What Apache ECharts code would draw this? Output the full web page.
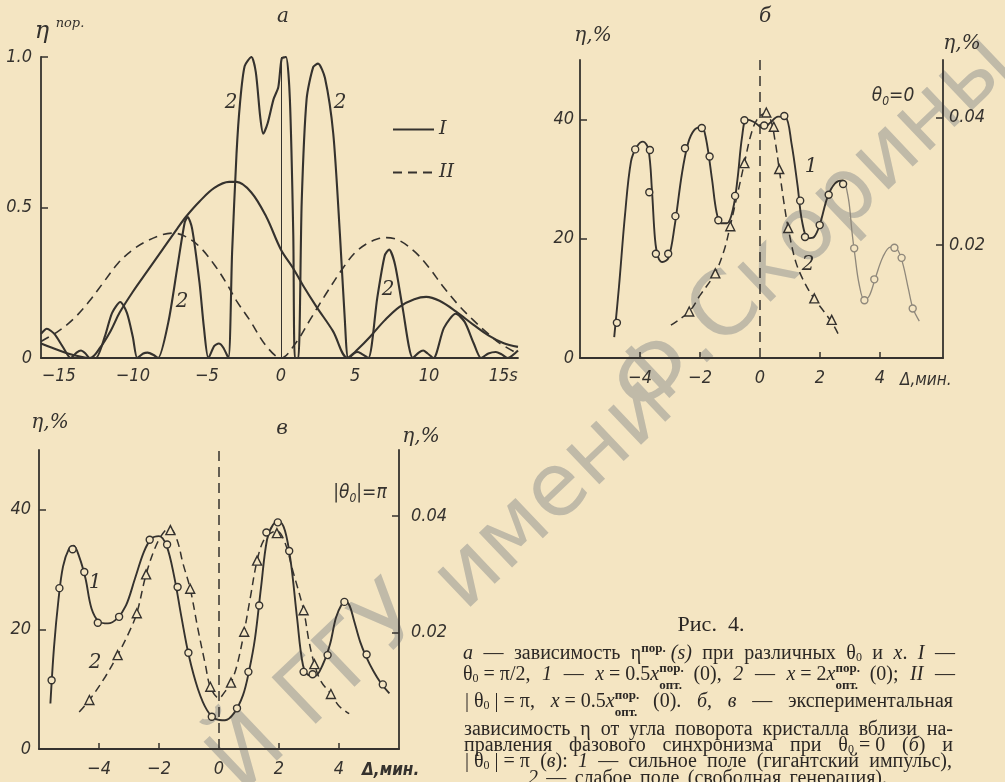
<!DOCTYPE html>
<html><head><meta charset="utf-8">
<script src="https://cdn.jsdelivr.net/npm/echarts@6/dist/echarts.min.js"></script>
<style>html,body{margin:0;padding:0;background:#f4e5c2;}#c{width:1005px;height:782px;}</style>
</head><body><div id="c"></div>
<script>
// ---------- Panel а: theory curves eta^пор.(s) ----------
const aTicksX = [-15, -10, -5, 0, 5, 10, 15];
const aTicksY = [0, 0.5, 1.0];
const aCurveI1 = [[-16.2,0.048],[-15.5,0.035],[-14.5,0.017],[-13.5,0.004],[-12.9,0],[-12.2,0.035],[-11.5,0.09],[-10.9,0.15],[-10,0.22],[-9,0.29],[-8,0.36],[-7,0.43],[-6.4,0.47],[-5.5,0.52],[-4.5,0.565],[-3.5,0.585],[-3,0.585],[-2,0.55],[-1,0.47],[0,0.36],[0.8,0.3],[1.5,0.24],[2.4,0.17],[3.5,0.09],[4.5,0],[5.2,0.03],[6,0.07],[7,0.125],[8,0.17],[9,0.195],[9.8,0.203],[10.7,0.19],[11.8,0.155],[13,0.11],[14,0.075],[15,0.05],[16,0.037]];
const aCurveI2 = [[-16.2,0.08],[-15.8,0.097],[-15.3,0.08],[-14.7,0.035],[-14.2,0],[-13.8,0.018],[-13.5,0.025],[-13.2,0.015],[-12.9,0],[-12.5,0],[-11.9,0.07],[-11.4,0.15],[-10.85,0.186],[-10.4,0.15],[-10,0.07],[-9.7,0],[-9.3,0.015],[-9,0.018],[-8.6,0.01],[-8.3,0],[-7.6,0.12],[-7,0.3],[-6.5,0.45],[-6.3,0.468],[-6,0.43],[-5.5,0.25],[-5.2,0.1],[-4.9,0],[-4.5,0.04],[-4.2,0.048],[-3.9,0.035],[-3.55,0],[-3.3,0.35],[-3,0.68],[-2.76,0.85],[-2.45,0.97],[-2,1.0],[-1.7,0.95],[-1.4,0.8],[-1.2,0.745],[-0.9,0.78],[-0.5,0.86],[-0.18,0.9],[0.05,0.995],[0.34,1.0],[0.6,0.86],[0.83,0.41],[0.94,0],[1.17,0],[1.4,0.52],[1.73,0.86],[2.18,0.967],[2.5,0.978],[2.97,0.93],[3.53,0.745],[3.98,0.41],[4.3,0.136],[4.54,0],[4.9,0.015],[5.2,0.02],[5.5,0.012],[5.9,0],[6.5,0.2],[7,0.34],[7.3,0.36],[7.7,0.31],[8.2,0.17],[8.9,0],[9.3,0.018],[9.6,0.025],[9.9,0.015],[10.3,0],[11,0.1],[11.8,0.147],[12.4,0.12],[13,0.05],[13.5,0],[14,0.015],[14.5,0.02],[14.9,0.012],[15.3,0],[16,0.025]];
const aCurveII = [[-16.2,0.055],[-15,0.09],[-14,0.13],[-13,0.185],[-12,0.25],[-11,0.315],[-10,0.36],[-9,0.39],[-8,0.41],[-7.3,0.415],[-6.5,0.405],[-5.5,0.37],[-4.5,0.31],[-3.7,0.25],[-3,0.19],[-2.1,0.125],[-1,0.04],[0,0],[1,0.05],[2,0.13],[3,0.21],[4.2,0.3],[5,0.35],[5.8,0.38],[6.5,0.395],[7.1,0.4],[8,0.39],[9.1,0.35],[10,0.3],[10.9,0.24],[12,0.175],[13,0.125],[14,0.08],[14.8,0.048],[16,0.014]];

// ---------- Panel б: theta0 = 0 ----------
const bTicksX = [-4, -2, 0, 2, 4];
const bTicksYLeft = [0, 20, 40];
const bTicksYRight = [0.02, 0.04];
const bCurve1 = [[-4.86,3.5],[-4.7,12],[-4.5,24],[-4.3,33],[-4.1,35.5],[-3.9,36.3],[-3.72,35],[-3.6,28],[-3.5,20],[-3.4,17],[-3.25,16.1],[-3.05,16.8],[-2.85,22],[-2.6,31],[-2.4,36],[-2.2,38.2],[-1.95,38.8],[-1.8,36.8],[-1.6,30],[-1.45,24.5],[-1.3,22.6],[-1.1,22.6],[-0.9,25],[-0.75,30],[-0.6,37],[-0.45,40],[-0.2,39.6],[0.1,38.6],[0.35,39.5],[0.6,40.5],[0.85,40.4],[1.05,36],[1.25,29],[1.4,23],[1.6,20.1],[1.8,20.3],[2.0,22.5],[2.25,27],[2.5,29.3],[2.75,29.8],[2.85,29.2]];
const bCurve1Faint = [[2.85,29.2],[2.97,26],[3.07,21],[3.17,17],[3.3,12.5],[3.48,9.7],[3.65,10.5],[3.85,13.5],[4.1,17],[4.35,18.6],[4.55,18.4],[4.75,16],[4.95,11.5],[5.1,8.3],[5.31,6.2]];
const bDots1 = [[-4.77,5.9],[-4.16,35.0],[-3.67,34.9],[-3.69,27.8],[-3.47,17.5],[-3.06,17.5],[-2.82,23.8],[-2.5,35.2],[-1.94,38.6],[-1.68,33.8],[-1.39,23.1],[-0.83,27.2],[-0.52,39.9],[0.14,39.0],[0.81,40.6],[1.34,26.4],[1.5,20.3],[1.99,22.3],[2.29,27.4],[2.77,29.2]];
const bDots1Faint = [[3.14,18.4],[3.48,9.7],[3.81,13.2],[4.48,18.5],[4.72,16.8],[5.09,8.3]];
const bCurve2 = [[-2.97,5.5],[-2.36,7.8],[-2.0,10.5],[-1.5,14.2],[-1.2,18],[-1.0,22],[-0.75,27.5],[-0.52,32.7],[-0.3,37.5],[-0.1,40],[0.15,41],[0.35,40],[0.5,36.5],[0.64,31.7],[0.8,26],[0.95,21.5],[1.2,16],[1.5,12.5],[1.8,10],[2.1,8],[2.39,6],[2.6,4.1]];
const bTri2 = [[-2.36,7.8],[-1.49,14.2],[-0.99,22.1],[-0.52,32.7],[0.21,41.2],[0.46,38.8],[0.64,31.7],[0.94,21.8],[1.81,10.0],[2.39,6.4]];

// ---------- Panel в: |theta0| = pi ----------
const vTicksX = [-4, -2, 0, 2, 4];
const vTicksYLeft = [0, 20, 40];
const vTicksYRight = [0.02, 0.04];
const vCurve1 = [[-5.62,7.6],[-5.5,17],[-5.35,25],[-5.2,30.5],[-5.0,33.5],[-4.85,34],[-4.65,32],[-4.45,28.5],[-4.25,23.5],[-4.0,21.3],[-3.7,21],[-3.4,21.8],[-3.1,24],[-2.8,28.5],[-2.5,33],[-2.25,35.2],[-2.0,35.6],[-1.75,34],[-1.5,29],[-1.25,22],[-1.0,15.5],[-0.7,10],[-0.4,6.5],[-0.1,5],[0.2,4.8],[0.5,6],[0.8,9],[1.0,13],[1.2,18.5],[1.4,27],[1.6,35],[1.8,37.5],[2.0,38],[2.2,36.5],[2.4,31],[2.6,22],[2.8,14],[3.0,12.3],[3.2,12.2],[3.45,14],[3.7,17.5],[3.9,22],[4.1,24.3],[4.2,24.7],[4.35,24],[4.5,21.5],[4.7,18],[4.9,15.5],[5.15,13],[5.4,11],[5.68,9.3]];
const vDots1 = [[-5.58,11.5],[-5.32,26.9],[-4.88,33.4],[-4.49,29.6],[-4.04,21.1],[-3.33,22.1],[-2.31,35.0],[-1.73,34.2],[-1.38,27.1],[-1.02,16.1],[-0.24,5.4],[0.6,6.8],[0.98,12.9],[1.34,24.0],[1.58,36.2],[1.96,37.9],[2.34,33.1],[2.82,12.9],[3.12,12.5],[3.62,15.7],[4.18,24.6],[4.92,15.8],[5.46,10.8]];
const vCurve2 = [[-4.66,6.2],[-4.32,8.2],[-3.8,12],[-3.38,15.7],[-3.0,19.5],[-2.74,22.7],[-2.43,29.2],[-2.1,34],[-1.8,36.5],[-1.62,36.8],[-1.4,35],[-1.2,31],[-0.96,26.8],[-0.7,20],[-0.45,14],[-0.29,10.4],[0,8.5],[0.2,9.6],[0.4,11.1],[0.6,14],[0.84,19.6],[1.05,25.5],[1.27,31.5],[1.5,35],[1.8,36.3],[1.95,36.4],[2.2,34.5],[2.45,30],[2.82,23.2],[3.0,18],[3.18,14.2],[3.4,11.3],[3.73,9.2],[4.0,7.2],[4.34,5.9]];
const vTri2 = [[-4.32,8.2],[-3.38,15.7],[-2.74,22.7],[-2.43,29.2],[-1.62,36.6],[-0.96,26.8],[-0.29,10.4],[0.4,11.1],[0.84,19.6],[1.27,31.5],[1.93,36.1],[2.82,23.2],[3.18,14.2],[3.73,9.2]];

// ---------- caption (words of each justified line) ----------
const captionTitle = 'Рис.  4.';
const captionLines = [
  ['{i|а}', '—', 'зависимость', 'η{sp|пор.} {i|(s)}', 'при', 'различных', 'θ{sb|0}', 'и', '{i|x}.', '{i|I}', '—'],
  ['θ{sb|0} = π/2,', '{i|1}', '—', '{i|x} = 0.5{i|x}{sp0|пор.}{sbo|опт.}', '(0),', '{i|2}', '—', '{i|x} = 2{i|x}{sp0|пор.}{sbo|опт.}', '(0);', '{i|II}', '—'],
  ['| θ{sb|0} | = π,', '{i|x} = 0.5{i|x}{sp0|пор.}{sbo|опт.}', '(0).', '{i|б},', '{i|в}', '—', 'экспериментальная'],
  ['зависимость', 'η', 'от', 'угла', 'поворота', 'кристалла', 'вблизи', 'на-'],
  ['правления', 'фазового', 'синхронизма', 'при', 'θ{sb|0} = 0', '({i|б})', 'и'],
  ['| θ{sb|0} | = π', '({i|в}):', '{i|1}', '—', 'сильное', 'поле', '(гигантский', 'импульс),'],
  ['{i|2}', '—', 'слабое', 'поле', '(свободная', 'генерация).']
];

// ---------- styles ----------
const BG = '#f4e5c2';
const INK = '#35322e';
const CAPINK = '#2b2724';
const FAINT = '#8f887b';
const NUMFONT = "'Liberation Sans Narrow','DejaVu Sans Condensed',sans-serif";
const SERIF = "'Liberation Serif','DejaVu Serif',serif";
const ITSERIF = "'DejaVu Serif','Liberation Serif',serif";

function fmtNum(v, digits) {
  if (v === 0) return '0';
  const s = digits != null ? Math.abs(v).toFixed(digits) : String(Math.abs(v));
  return (v < 0 ? '\u2212' : '') + s;
}
function xAxisCfg(grid, min, max, labels, ticks, fmt, margin) {
  return {
    gridIndex: grid, type: 'value', min: min, max: max,
    axisLine: {show: true, onZero: false, lineStyle: {color: INK, width: 1.8}},
    axisTick: ticks ? {show: true, inside: true, length: 6, customValues: ticks, lineStyle: {color: INK, width: 1.5}} : {show: false},
    splitLine: {show: false},
    axisLabel: {customValues: labels, formatter: fmt, margin: margin, fontFamily: NUMFONT, fontStyle: 'italic', fontSize: 18, color: INK}
  };
}
function yAxisCfg(grid, pos, min, max, labels, ticks, fmt, margin) {
  return {
    gridIndex: grid, type: 'value', position: pos, min: min, max: max,
    axisLine: {show: true, onZero: false, lineStyle: {color: INK, width: 1.8}},
    axisTick: {show: true, inside: true, length: 7, customValues: ticks, lineStyle: {color: INK, width: 1.5}},
    splitLine: {show: false},
    axisLabel: {customValues: labels, formatter: fmt, margin: margin, fontFamily: NUMFONT, fontStyle: 'italic', fontSize: 18, color: INK}
  };
}
function curve(name, data, xi, yi, opts) {
  opts = opts || {};
  return Object.assign({
    name: name, type: 'line', data: data, xAxisIndex: xi, yAxisIndex: yi,
    smooth: 0.35, symbol: 'none', silent: true, z: 3,
    lineStyle: {color: opts.color || INK, width: opts.width || 2, type: opts.dash || 'solid'},
    itemStyle: {color: opts.color || INK}
  }, opts.extra || {});
}
function dots(data, xi, yi, shape, size, color) {
  return {
    type: 'scatter', data: data, xAxisIndex: xi, yAxisIndex: yi, silent: true, z: 4,
    symbol: shape, symbolSize: size,
    itemStyle: {color: BG, borderColor: color || INK, borderWidth: 1.4, opacity: 1}
  };
}
function zeroLine(dash, width) {
  return {symbol: 'none', silent: true, label: {show: false},
    lineStyle: {color: INK, width: width, type: dash}, data: [{xAxis: 0}]};
}
function txt(x, y, text, o) {
  o = o || {};
  return {type: 'text', x: x, y: y, z: 10, silent: true,
    style: Object.assign({text: text, fill: INK, fontFamily: ITSERIF, fontStyle: 'italic', fontSize: 20,
      align: 'center', verticalAlign: 'middle'}, o)};
}
function water(x, y, text) {
  return {type: 'text', x: x, y: y, rotation: 0.76, z: 0, silent: true,
    style: {text: text, fill: '#c0baa8', fontFamily: "'DejaVu Sans',sans-serif", fontSize: 88,
      align: 'center', verticalAlign: 'middle'}};
}

// caption typography
const CAPF = 20;
const capBase = {fontFamily: SERIF, fontStyle: 'normal', fontWeight: 'normal', fontSize: CAPF};
const capRich = {
  i: {fontFamily: SERIF, fontStyle: 'italic', fontWeight: 'normal', fontSize: CAPF, fill: CAPINK, lineHeight: 34},
  sp: {fontFamily: SERIF, fontStyle: 'normal', fontWeight: 'bold', fontSize: 13, fill: CAPINK, verticalAlign: 'top', padding: [5, 0, 0, 0]},
  sp0: {fontFamily: SERIF, fontStyle: 'normal', fontWeight: 'bold', fontSize: 13, fill: CAPINK, verticalAlign: 'top', padding: [4, 0, 0, 0], width: 0},
  sbo: {fontFamily: SERIF, fontStyle: 'normal', fontWeight: 'bold', fontSize: 13, fill: CAPINK, verticalAlign: 'bottom', padding: [0, 0, 0, 0]},
  sb: {fontFamily: SERIF, fontStyle: 'normal', fontWeight: 'normal', fontSize: 12, fill: CAPINK, verticalAlign: 'bottom', padding: [0, 0, 7, 0]}
};
const measCtx = document.createElement('canvas').getContext('2d');
function cssFont(st) {
  return st.fontStyle + ' ' + st.fontWeight + ' ' + st.fontSize + 'px ' + st.fontFamily;
}
function richWidth(str) {
  const re = /\{(\w+)\|([^}]*)\}/g;
  let last = 0, m, w = 0;
  const segs = [];
  while ((m = re.exec(str))) {
    if (m.index > last) segs.push([null, str.slice(last, m.index)]);
    segs.push([m[1], m[2]]);
    last = re.lastIndex;
  }
  if (last < str.length) segs.push([null, str.slice(last)]);
  segs.forEach(function (s) {
    const st = s[0] ? capRich[s[0]] : capBase;
    if (s[0] && st.width === 0) return;
    measCtx.font = cssFont(st);
    w += measCtx.measureText(s[1]).width;
  });
  return w;
}
function capWord(x, y, text) {
  return {type: 'text', x: x, y: y, z: 10, silent: true,
    style: {text: text, rich: capRich, fill: CAPINK, fontFamily: SERIF, fontSize: CAPF, lineHeight: 34,
      align: 'left', verticalAlign: 'middle'}};
}
function justifiedLine(words, left, right, y) {
  const widths = words.map(richWidth);
  const total = widths.reduce(function (a, b) { return a + b; }, 0);
  const gap = words.length > 1 ? (right - left - total) / (words.length - 1) : 0;
  let x = left;
  return words.map(function (wd, k) {
    const el = capWord(x, y, wd);
    x += widths[k] + gap;
    return el;
  });
}
const capLayout = [[463, 955, 654], [463, 955, 675], [465, 953, 702], [464, 953, 730], [464, 953, 746], [465, 952, 762], [528, 887, 779]];
let captionEls = [];
captionLines.forEach(function (words, k) {
  const L = capLayout[k];
  captionEls = captionEls.concat(justifiedLine(words, L[0], L[1], L[2]));
});

const chart = echarts.init(document.getElementById('c'), null, {renderer: 'canvas'});
chart.setOption({
  backgroundColor: BG,
  animation: false,
  grid: [
    {left: 41, top: 57, width: 477, height: 301},
    {left: 580, top: 60, width: 363, height: 298},
    {left: 39, top: 450, width: 360, height: 299}
  ],
  xAxis: [
    xAxisCfg(0, -16.2, 16, aTicksX, null, v => v === 15 ? '15s' : fmtNum(v), 9),
    xAxisCfg(1, -6, 6.1, bTicksX, [-4, -2, 2, 4], v => fmtNum(v), 11),
    xAxisCfg(2, -6, 6, vTicksX, [-4, -2, 2, 4], v => fmtNum(v), 11)
  ],
  yAxis: [
    yAxisCfg(0, 'left', 0, 1, aTicksY, [0.5, 1.0], v => v === 0 ? '0' : v.toFixed(1), 9),
    yAxisCfg(1, 'left', 0, 50, bTicksYLeft, [20, 40], v => String(v), 6),
    yAxisCfg(1, 'right', 0.0022, 0.0491, bTicksYRight, bTicksYRight, v => v.toFixed(2), 6),
    yAxisCfg(2, 'left', 0, 50, vTicksYLeft, [20, 40], v => String(v), 8),
    yAxisCfg(2, 'right', 0, 0.0513, vTicksYRight, vTicksYRight, v => v.toFixed(2), 12)
  ],
  legend: {
    data: ['I', 'II'], orient: 'vertical', left: 392, top: 120, padding: 0,
    itemWidth: 41, itemHeight: 14, itemGap: 24, selectedMode: false,
    itemStyle: {color: 'rgba(0,0,0,0)', borderWidth: 0, opacity: 0},
    textStyle: {fontFamily: ITSERIF, fontStyle: 'italic', fontSize: 19, color: INK}
  },
  series: [
    curve('I', aCurveI1, 0, 0, {width: 2.1, extra: {markLine: zeroLine('solid', 1)}}),
    curve('I', aCurveI2, 0, 0, {width: 2.1, extra: {smooth: 0.25}}),
    curve('II', aCurveII, 0, 0, {width: 1.6, dash: [9, 6]}),
    curve('б1', bCurve1, 1, 1, {width: 1.9, extra: {markLine: zeroLine([10, 6], 1.5)}}),
    curve('б1f', bCurve1Faint, 1, 1, {width: 1.3, color: FAINT}),
    dots(bDots1, 1, 1, 'circle', 7),
    dots(bDots1Faint, 1, 1, 'circle', 7, FAINT),
    curve('б2', bCurve2, 1, 1, {width: 1.5, dash: [8, 5]}),
    dots(bTri2, 1, 1, 'triangle', 9),
    curve('в1', vCurve1, 2, 3, {width: 1.9, extra: {markLine: zeroLine([10, 6], 1.5)}}),
    dots(vDots1, 2, 3, 'circle', 7),
    curve('в2', vCurve2, 2, 3, {width: 1.5, dash: [8, 5]}),
    dots(vTri2, 2, 3, 'triangle', 9)
  ],
  graphic: [
    water(318, 690, 'Й ГГУ'),
    water(555, 495, 'имени'),
    water(815, 228, 'Ф.Скорины'),
    // panel а
    txt(283, 17, 'а'),
    txt(42, 32, 'η', {fontSize: 24}),
    txt(70, 24, 'пор.', {fontSize: 13}),
    txt(231, 103, '2'), txt(340, 103, '2'), txt(182, 302, '2'), txt(388, 290, '2'),
    // panel б
    txt(765, 17, 'б'),
    txt(593, 36, 'η,%', {fontSize: 20}),
    txt(962, 44, 'η,%', {fontSize: 20}),
    {type: 'text', x: 893, y: 96, z: 10, silent: true, style: {text: 'θ{s|0}=0', fill: INK, fontFamily: NUMFONT, fontStyle: 'italic', fontSize: 19, align: 'center', verticalAlign: 'middle', lineHeight: 24, rich: {s: {fontFamily: NUMFONT, fontStyle: 'italic', fontSize: 12, fill: INK, verticalAlign: 'bottom'}}}},
    txt(811, 167, '1'), txt(808, 265, '2'),
    txt(900, 381, 'Δ,мин.', {fontFamily: NUMFONT, fontSize: 17, align: 'left'}),
    // panel в
    txt(282, 429, 'в'),
    txt(50, 423, 'η,%', {fontSize: 20}),
    txt(421, 437, 'η,%', {fontSize: 20}),
    {type: 'text', x: 360, y: 493, z: 10, silent: true, style: {text: '|θ{s|0}|=π', fill: INK, fontFamily: NUMFONT, fontStyle: 'italic', fontSize: 19, align: 'center', verticalAlign: 'middle', lineHeight: 24, rich: {s: {fontFamily: NUMFONT, fontStyle: 'italic', fontSize: 12, fill: INK, verticalAlign: 'bottom'}}}},
    txt(95, 583, '1'), txt(95, 663, '2'),
    txt(362, 771, 'Δ,мин.', {fontFamily: NUMFONT, fontSize: 17, align: 'left', fontWeight: 'bold'}),
    // caption
    txt(711, 625, captionTitle, {fontFamily: SERIF, fontStyle: 'normal', fontSize: 22, fill: CAPINK})
  ].concat(captionEls)
});
</script></body></html>
